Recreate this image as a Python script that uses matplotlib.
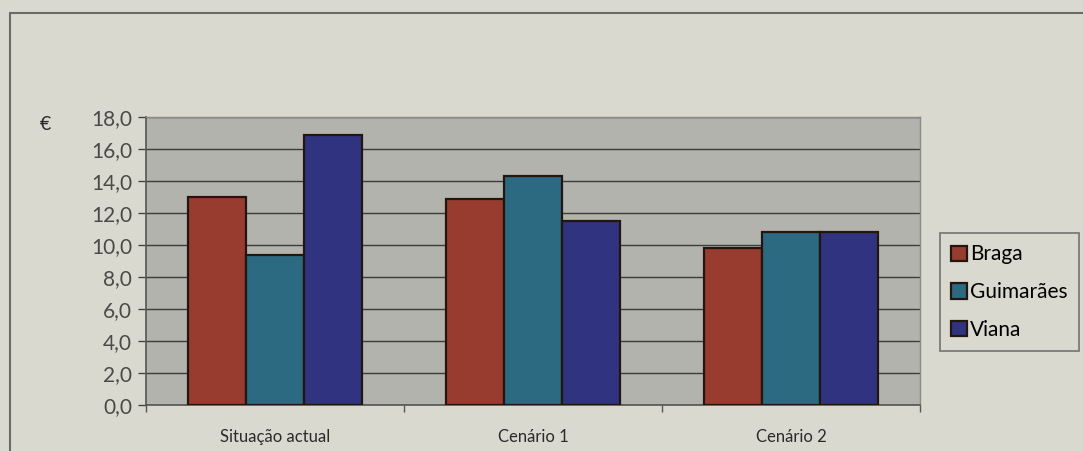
import numpy as np
import matplotlib.pyplot as plt
from matplotlib.patches import Rectangle

plt.rcParams['font.family'] = ['Lato', 'DejaVu Sans']

# Data
cenarios = ['Situação actual', 'Cenário 1', 'Cenário 2']
braga = [13.0, 12.9, 9.8]
guimaraes = [9.4, 14.3, 10.8]
viana = [16.9, 11.5, 10.8]
series = ['Braga', 'Guimarães', 'Viana']
cores = ['#983c30', '#2b6a80', '#2f3380']
yticks = np.arange(0, 18.1, 2.0)

W, H = 1083, 451
fig = plt.figure(figsize=(W / 100, H / 100), dpi=100)
fig.patch.set_facecolor('#d9d9cf')

# frame of the scanned page
fig.add_artist(Rectangle((10 / W, -0.1), 1.2, (H - 13) / H + 0.1, transform=fig.transFigure,
                         fill=False, edgecolor='#6a6a66', linewidth=1.5))

ax = fig.add_axes([146 / W, (H - 405) / H, (920 - 146) / W, (405 - 117) / H])
ax.set_facecolor('#b3b3ad')

x = np.arange(len(cenarios))
w = 0.225
for i, (vals, nome, cor) in enumerate(zip([braga, guimaraes, viana], series, cores)):
    ax.bar(x + (i - 1) * w, vals, width=w, color=cor, edgecolor='#231610',
           linewidth=1.6, label=nome, zorder=3)

ax.set_xlim(-0.5, 2.5)
ax.set_ylim(0, 18)
ax.set_yticks(yticks)
ax.set_yticklabels([f'{v:.1f}'.replace('.', ',') for v in yticks], fontsize=15, color='#4a4a48')
ax.yaxis.grid(True, color='#3c3c3a', linewidth=1.0, zorder=1)
ax.set_axisbelow(True)
ax.tick_params(axis='y', length=6, width=1, color='#444', pad=4)

ax.set_xticks([-0.5, 0.5, 1.5, 2.5])
ax.set_xticklabels([])
ax.set_xticks(x, minor=True)
ax.set_xticklabels(cenarios, minor=True, fontsize=12, color='#2a2a2a')
ax.tick_params(axis='x', which='major', length=5, width=1, color='#555', direction='out')
ax.tick_params(axis='x', which='minor', length=0, pad=17)

for s in ['top', 'right']:
    ax.spines[s].set_color('#8a8a86')
    ax.spines[s].set_linewidth(1)
for s in ['left', 'bottom']:
    ax.spines[s].set_color('#555552')
    ax.spines[s].set_linewidth(1.2)

fig.text(45 / W, (H - 125) / H, '€', fontsize=14, color='#2a2a2a', va='center', ha='center')

leg = ax.legend(loc='upper left', bbox_to_anchor=(940 / W, (H - 233) / H),
                bbox_transform=fig.transFigure, fontsize=15, frameon=True,
                fancybox=False, handlelength=0.75, handleheight=0.75,
                handletextpad=0.15, labelspacing=0.85, borderpad=0.55, borderaxespad=0)
leg.get_frame().set_edgecolor('#5a5a56')
leg.get_frame().set_facecolor('#d9d9cf')
leg.get_frame().set_linewidth(1.2)
for h in leg.legend_handles:
    h.set_edgecolor('#231610')
    h.set_linewidth(1.6)

fig.savefig('out.png', dpi=100, facecolor=fig.get_facecolor())
